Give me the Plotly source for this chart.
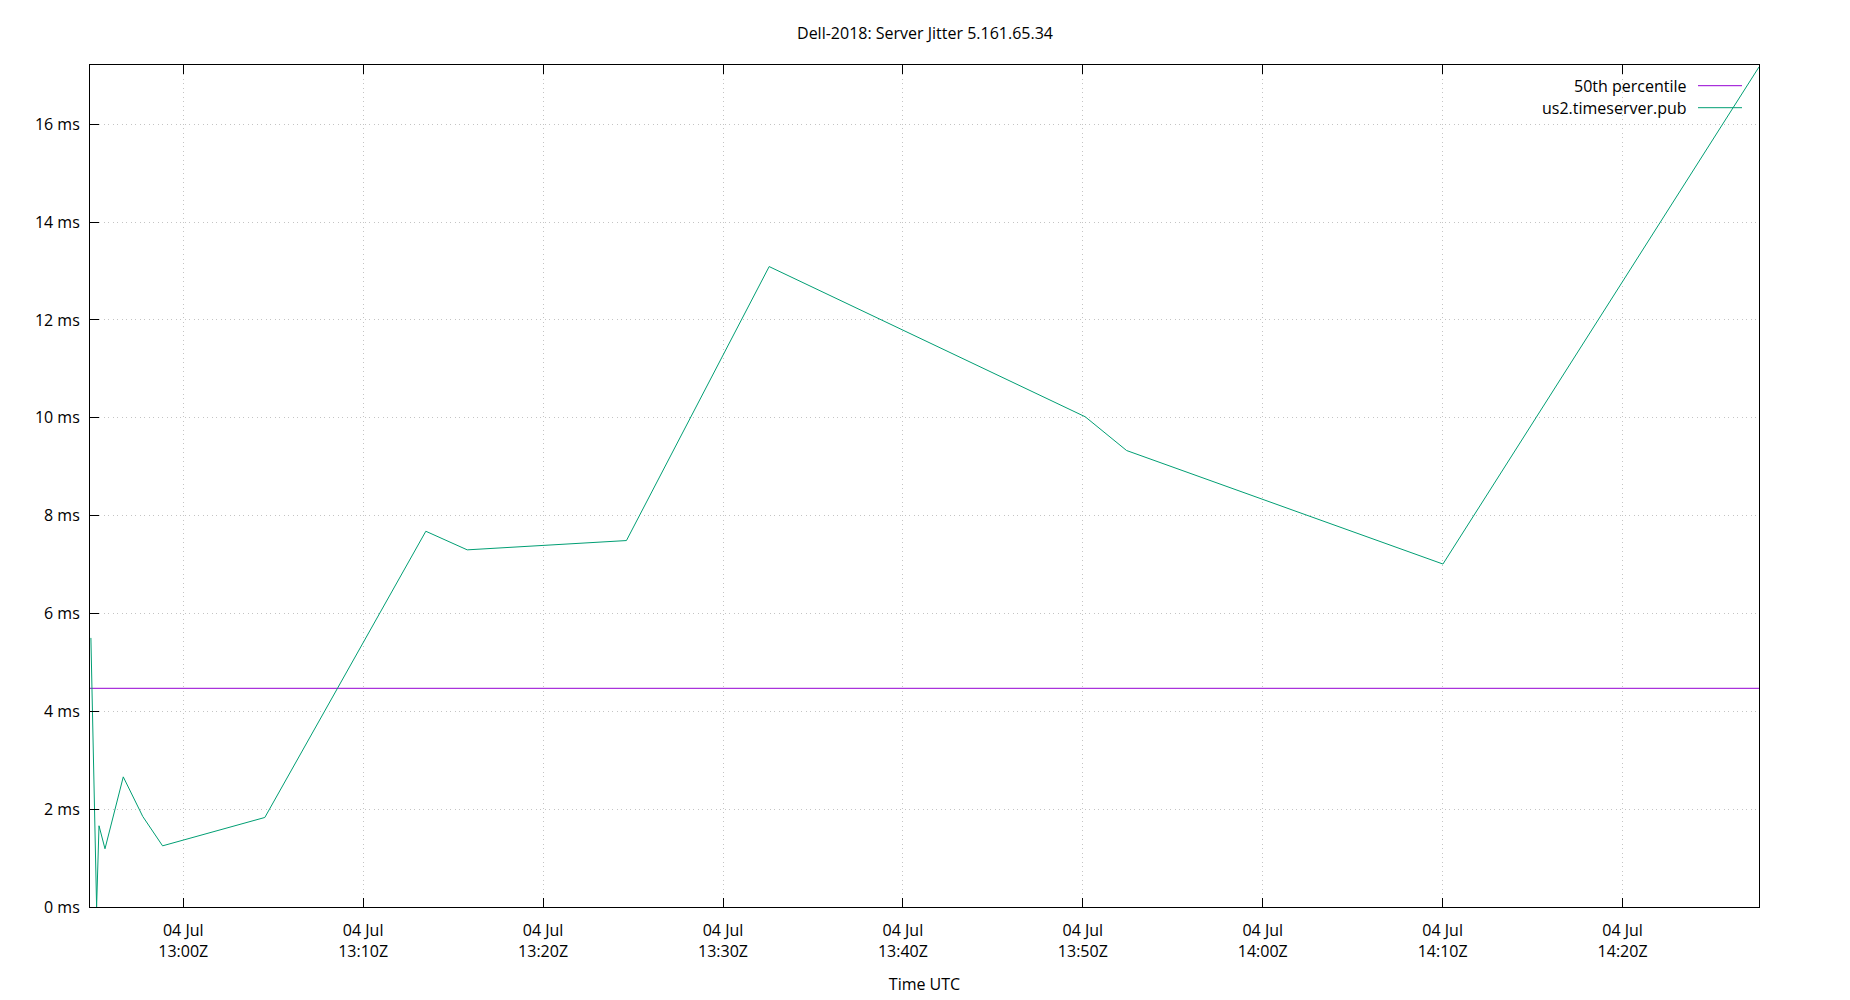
import plotly.graph_objects as go

# ---- data ----
times = [
    "2018-07-04 12:54:52", "2018-07-04 12:55:11", "2018-07-04 12:55:19",
    "2018-07-04 12:55:39", "2018-07-04 12:56:40", "2018-07-04 12:57:45",
    "2018-07-04 12:58:51", "2018-07-04 13:04:32", "2018-07-04 13:13:29",
    "2018-07-04 13:15:47", "2018-07-04 13:24:38", "2018-07-04 13:32:34",
    "2018-07-04 13:50:08", "2018-07-04 13:52:26", "2018-07-04 14:10:01",
    "2018-07-04 14:27:35",
]
jitter_ms = [5.50, 0.0, 1.66, 1.19, 2.66, 1.85, 1.25, 1.83, 7.68, 7.30,
             7.49, 13.09, 10.02, 9.33, 7.01, 17.17]
p50_ms = 4.47
x_range = ["2018-07-04 12:54:49", "2018-07-04 14:27:35"]
y_range = [0, 17.21]

x_tickvals = ["2018-07-04 13:00", "2018-07-04 13:10", "2018-07-04 13:20",
              "2018-07-04 13:30", "2018-07-04 13:40", "2018-07-04 13:50",
              "2018-07-04 14:00", "2018-07-04 14:10", "2018-07-04 14:20"]
x_ticktext = ["04 Jul<br>13:00Z", "04 Jul<br>13:10Z", "04 Jul<br>13:20Z",
              "04 Jul<br>13:30Z", "04 Jul<br>13:40Z", "04 Jul<br>13:50Z",
              "04 Jul<br>14:00Z", "04 Jul<br>14:10Z", "04 Jul<br>14:20Z"]
y_tickvals = [0, 2, 4, 6, 8, 10, 12, 14, 16]
y_ticktext = ["0 ms", "2 ms", "4 ms", "6 ms", "8 ms", "10 ms", "12 ms", "14 ms", "16 ms"]

series_names = ["50th percentile", "us2.timeserver.pub"]
colors = ["#9400d3", "#009e73"]

FONT = "Open Sans"
FS = 16

fig = go.Figure()
fig.add_trace(go.Scatter(x=x_range, y=[p50_ms, p50_ms], mode="lines",
                         line=dict(color=colors[0], width=1),
                         name=series_names[0], showlegend=False))
fig.add_trace(go.Scatter(x=times, y=jitter_ms, mode="lines",
                         line=dict(color=colors[1], width=1),
                         name=series_names[1], showlegend=False))

# gnuplot-style legend: right-aligned text with line sample to the right
legend_y = [(907 - 85.7) / 842, (907 - 107.7) / 842]
for name, col, ly in zip(series_names, colors, legend_y):
    fig.add_annotation(x=(1689 - 90) / 1669, y=ly, xref="paper", yref="paper",
                       text=name, showarrow=False, xanchor="right",
                       yanchor="middle", font=dict(family=FONT, size=FS, color="#000"))
    fig.add_shape(type="line", xref="paper", yref="paper",
                  x0=(1698 - 90) / 1669, x1=(1742 - 90) / 1669, y0=ly, y1=ly,
                  line=dict(color=col, width=1))

axis_common = dict(showline=True, linecolor="black", linewidth=1,
                   ticks="inside", ticklen=9, tickcolor="black",
                   showgrid=True, gridcolor="#c4c4c4", griddash="1px,3.5px", gridwidth=1,
                   zeroline=False, automargin=False,
                   tickfont=dict(family=FONT, size=FS, color="#000"))

fig.update_layout(
    width=1850, height=1000,
    paper_bgcolor="white", plot_bgcolor="white",
    margin=dict(l=90, r=91, t=65, b=93),
    title=dict(text="Dell-2018: Server Jitter 5.161.65.34", x=0.5, xanchor="center",
               y=1 - 33 / 1000, yanchor="middle",
               font=dict(family=FONT, size=FS, color="#000")),
    xaxis=dict(type="date", range=x_range, tickvals=x_tickvals, ticktext=x_ticktext,
               mirror="ticks",
               title=dict(text="Time UTC", font=dict(family=FONT, size=FS, color="#000"),
                          standoff=17),
               ticklabelstandoff=9,
               **axis_common),
    yaxis=dict(range=y_range, tickvals=y_tickvals, ticktext=y_ticktext,
               mirror=True,
               ticklabelstandoff=6,
               **axis_common),
    showlegend=False,
)

fig.write_html("out.html")
